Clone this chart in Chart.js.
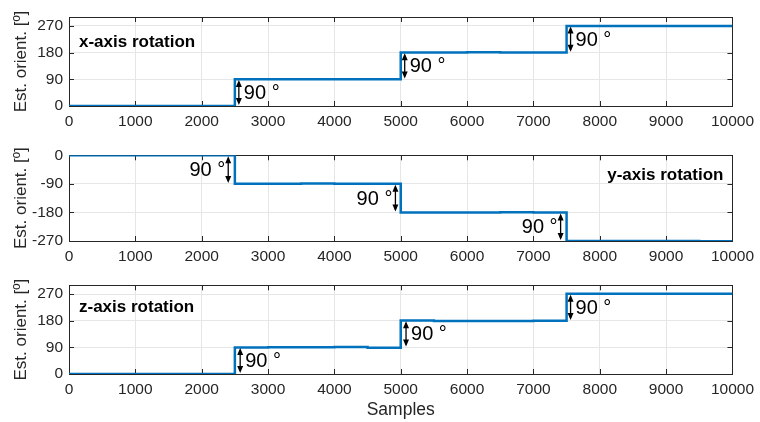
<!DOCTYPE html>
<html>
<head>
<meta charset="utf-8">
<script src="https://cdn.jsdelivr.net/npm/chart.js@4/dist/chart.umd.min.js"></script>
<style>
html, body { margin: 0; padding: 0; background: #fff; width: 760px; height: 422px; overflow: hidden; }
canvas { position: absolute; left: 0; }
</style>
</head>
<body>
<canvas id="graficoX" width="760" height="135" style="top:0px"></canvas>
<canvas id="graficoY" width="760" height="130" style="top:140px"></canvas>
<canvas id="graficoZ" width="760" height="152" style="top:270px"></canvas>
<script>
// muestras (eje x) cada 500
var muestras = [0, 500, 1000, 1500, 2000, 2500, 3000, 3500, 4000, 4500, 5000,
                5500, 6000, 6500, 7000, 7500, 8000, 8500, 9000, 9500, 10000];

// orientación estimada [º] (valor desde cada muestra hasta la siguiente)
var rotX = [0, 0, 0, 0, 0, 90, 90, 90, 90.5, 90, 180, 180, 181, 180.5, 180, 270, 270, 270, 270, 270, 270];
var rotY = [0, 0, 0, 0, 0, -90, -90, -89, -89.5, -90, -180, -180, -180, -179.5, -180, -270, -270, -270, -270, -271, -271];
var rotZ = [0, 0, 0, 0, 0, 90, 90.5, 90.5, 91, 89, 181, 179.5, 179.5, 179.5, 180, 271, 271, 271, 271, 271, 271];

var ticksPos = [0, 90, 180, 270];
var ticksNeg = [-270, -180, -90, 0];

// flechas de 90º: muestra, desde, hasta
var flechasX = [[2560, 3, 88], [5060, 93, 178], [7560, 183, 268]];
var flechasY = [[2400, -3, -87], [4920, -93, -177], [7410, -183, -267]];
var flechasZ = [[2580, 3, 88], [5080, 93, 178], [7560, 183, 268]];

var FUENTE = '"Liberation Sans", Arial, Helvetica, sans-serif';
var GRIS = '#262626';

function dibujarFlecha(ctx, x, y1, y2) {
    var s = y2 > y1 ? 1 : -1;
    ctx.beginPath();
    ctx.moveTo(x, y1 + s * 2);
    ctx.lineTo(x, y2 - s * 2);
    ctx.stroke();
    ctx.beginPath();
    ctx.moveTo(x, y1);
    ctx.lineTo(x - 3, y1 + s * 7);
    ctx.lineTo(x + 3, y1 + s * 7);
    ctx.closePath();
    ctx.fill();
    ctx.beginPath();
    ctx.moveTo(x, y2);
    ctx.lineTo(x - 3, y2 - s * 7);
    ctx.lineTo(x + 3, y2 - s * 7);
    ctx.closePath();
    ctx.fill();
}

/* marco, ticks hacia dentro, título y flechas */
var decorPlugin = {
    id: 'decor',
    beforeDatasetsDraw: function (chart) {
        var a = chart.chartArea, ctx = chart.ctx;
        var sx = chart.scales.x, sy = chart.scales.y;
        ctx.save();
        ctx.strokeStyle = GRIS;
        ctx.lineWidth = 1;
        sx.ticks.forEach(function (t) {
            var px = Math.round(sx.getPixelForValue(t.value)) + 0.5;
            ctx.beginPath();
            ctx.moveTo(px, a.bottom); ctx.lineTo(px, a.bottom - 5);
            ctx.moveTo(px, a.top); ctx.lineTo(px, a.top + 5);
            ctx.stroke();
        });
        sy.ticks.forEach(function (t) {
            var py = Math.round(sy.getPixelForValue(t.value)) + 0.5;
            ctx.beginPath();
            ctx.moveTo(a.left, py); ctx.lineTo(a.left + 5, py);
            ctx.moveTo(a.right, py); ctx.lineTo(a.right - 5, py);
            ctx.stroke();
        });
        ctx.strokeRect(Math.round(a.left) + 0.5, Math.round(a.top) + 0.5,
            Math.round(a.right - a.left), Math.round(a.bottom - a.top));
        ctx.restore();
    },
    afterDraw: function (chart, args, opts) {
        var a = chart.chartArea, ctx = chart.ctx;
        var sx = chart.scales.x, sy = chart.scales.y;
        ctx.save();
        ctx.fillStyle = '#000';
        ctx.font = 'bold 17px ' + FUENTE;
        ctx.textBaseline = 'middle';
        if (opts.alinear === 'right') {
            ctx.textAlign = 'right';
            ctx.fillText(opts.titulo, a.right - 9, a.top + opts.tituloY);
        } else {
            ctx.textAlign = 'left';
            ctx.fillText(opts.titulo, a.left + 10, a.top + opts.tituloY);
        }
        ctx.strokeStyle = '#000';
        ctx.lineWidth = 1.3;
        ctx.font = '20px ' + FUENTE;
        opts.flechas.forEach(function (f) {
            var px = sx.getPixelForValue(f[0]);
            var p1 = sy.getPixelForValue(f[1]);
            var p2 = sy.getPixelForValue(f[2]);
            dibujarFlecha(ctx, px, p1, p2);
            var ym = (p1 + p2) / 2 + 1;
            if (opts.lado === 'izq') {
                ctx.textAlign = 'right';
                ctx.fillText('90 °', px - 3, ym);
            } else {
                ctx.textAlign = 'left';
                ctx.fillText('90 °', px + 5, ym);
            }
        });
        ctx.restore();
    }
};

function crearPanel(id, datos, ymin, ymax, ticksY, decor, padTop, altoX, conTitulo) {
    var ctx = document.getElementById(id);
    return new Chart(ctx, {
        type: 'line',
        data: {
            datasets: [{
                data: datos.map(function (v, i) { return { x: muestras[i], y: v }; }),
                borderColor: '#0072BD',
                borderWidth: 2.5,
                pointRadius: 0,
                stepped: 'before',
                fill: false
            }]
        },
        options: {
            responsive: false,
            animation: false,
            events: [],
            layout: { padding: { top: padTop, right: 24, left: 0, bottom: 0 } },
            plugins: { legend: { display: false }, tooltip: { enabled: false }, decor: decor },
            scales: {
                x: {
                    type: 'linear', min: 0, max: 10000,
                    border: { display: false },
                    grid: { color: '#e6e6e6', drawTicks: false },
                    ticks: { stepSize: 1000, color: GRIS, padding: 6, maxRotation: 0,
                             font: { family: FUENTE, size: 15.5 },
                             callback: function (v) { return String(v); } },
                    title: { display: conTitulo, text: 'Samples', color: GRIS, padding: { top: 0, bottom: 1 },
                             font: { family: FUENTE, size: 17.5 } },
                    afterFit: function (s) { s.height = altoX; }
                },
                y: {
                    min: ymin, max: ymax,
                    border: { display: false },
                    grid: { color: '#e6e6e6', drawTicks: false },
                    afterBuildTicks: function (s) { s.ticks = ticksY.map(function (v) { return { value: v }; }); },
                    ticks: { color: GRIS, padding: 6, font: { family: FUENTE, size: 15.5 },
                             callback: function (v) { return String(v); } },
                    title: { display: true, text: 'Est. orient. [º]', color: GRIS, padding: { top: 11, bottom: 0 },
                             font: { family: FUENTE, size: 17 } },
                    afterFit: function (s) { s.width = 69; }
                }
            }
        },
        plugins: [decorPlugin]
    });
}

crearPanel('graficoX', rotX, 0, 300, ticksPos,
    { titulo: 'x-axis rotation', alinear: 'left', tituloY: 25, flechas: flechasX, lado: 'der' }, 17, 29, false);
crearPanel('graficoY', rotY, -270, 0, ticksNeg,
    { titulo: 'y-axis rotation', alinear: 'right', tituloY: 20, flechas: flechasY, lado: 'izq' }, 13, 29, false);
crearPanel('graficoZ', rotZ, 0, 300, ticksPos,
    { titulo: 'z-axis rotation', alinear: 'left', tituloY: 22, flechas: flechasZ, lado: 'der' }, 15, 48, true);
</script>
</body>
</html>
